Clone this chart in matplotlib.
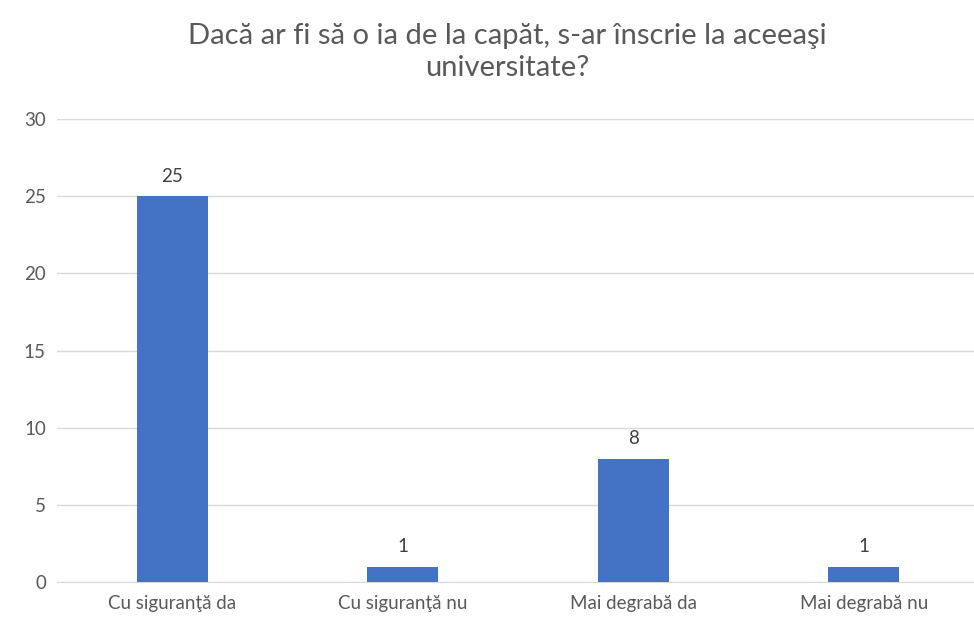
import matplotlib
matplotlib.use("Agg")
import matplotlib.pyplot as plt

plt.rcParams['font.family'] = ['Lato', 'DejaVu Sans']

categories = ["Cu siguranţă da", "Cu siguranţă nu", "Mai degrabă da", "Mai degrabă nu"]
values = [25, 1, 8, 1]
y_ticks = [0, 5, 10, 15, 20, 25, 30]

text_color = "#595959"
fig = plt.figure(figsize=(9.74, 6.23), dpi=100)
ax = fig.add_axes([57 / 974, 1 - 582 / 623, 922 / 974, 463 / 623])

x = range(len(categories))
bars = ax.bar(x, values, width=0.31, color="#4472C4", zorder=3)
for i, v in enumerate(values):
    ax.text(i, v + 0.75, str(v), ha="center", va="bottom", fontsize=13.5, color="#404040")

ax.set_xlim(-0.5, 3.5)
ax.set_ylim(0, 30)
ax.set_yticks(y_ticks)
ax.set_xticks(list(x))
ax.set_xticklabels(categories)
ax.tick_params(axis="both", length=0, labelsize=13.5, colors=text_color)
ax.tick_params(axis="y", pad=8)
ax.tick_params(axis="x", pad=9)
ax.grid(axis="y", color="#D9D9D9", linewidth=1, zorder=0)
for s in ["top", "right", "left"]:
    ax.spines[s].set_visible(False)
ax.spines["bottom"].set_color("#D9D9D9")

fig.text(507 / 974, 1 - 52 / 623, "Dacă ar fi să o ia de la capăt, s-ar înscrie la aceeaşi\nuniversitate?",
         ha="center", va="center", fontsize=21, color=text_color, linespacing=1.3)

fig.savefig("out.png", dpi=100)
